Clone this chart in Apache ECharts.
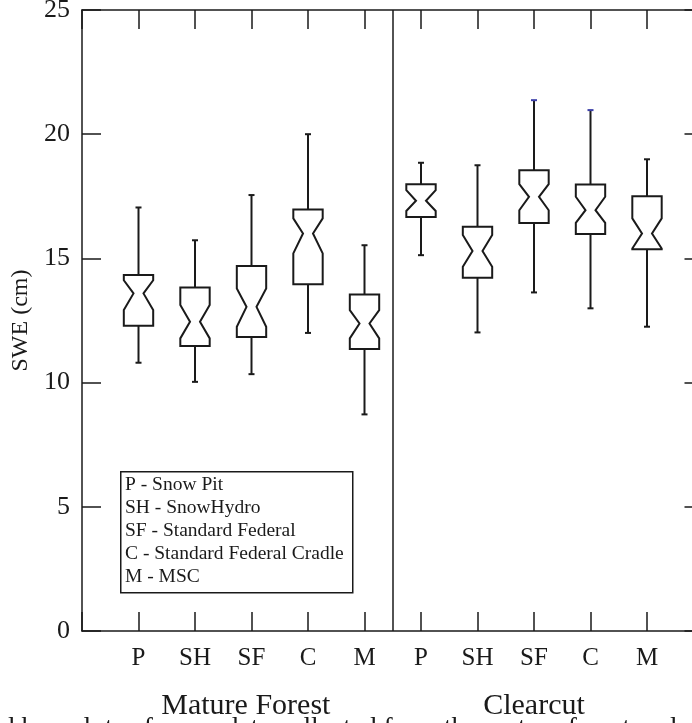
<!DOCTYPE html>
<html>
<head>
<meta charset="utf-8">
<script src="https://cdn.jsdelivr.net/npm/echarts@6/dist/echarts.min.js"></script>
<style>
html,body{margin:0;padding:0;background:#fff;}
#chart{width:692px;height:723px;}
</style>
</head>
<body>
<div id="chart"></div>
<script>
// Categories (methods)
const categories = ['P', 'SH', 'SF', 'C', 'M'];
const groups = ['Mature Forest', 'Clearcut'];
const legendLines = ['P - Snow Pit', 'SH - SnowHydro', 'SF - Standard Federal', 'C - Standard Federal Cradle', 'M - MSC'];
const yTicks = [0, 5, 10, 15, 20, 25];
// Each row: [whiskerLow, Q1, notchLow, median, notchHigh, Q3, whiskerHigh]
const matureForest = [
  [10.80, 12.29, 12.92, 13.59, 14.12, 14.33, 17.05],
  [10.03, 11.47, 11.78, 12.45, 13.12, 13.83, 15.73],
  [10.34, 11.84, 12.25, 13.05, 13.79, 14.69, 17.55],
  [12.00, 13.96, 15.20, 16.00, 16.61, 16.97, 20.00],
  [8.72, 11.35, 11.78, 12.38, 12.92, 13.55, 15.53]
];
const clearcut = [
  [15.13, 16.67, 16.91, 17.32, 17.75, 17.99, 18.85],
  [12.02, 14.22, 14.66, 15.30, 15.94, 16.27, 18.75],
  [13.63, 16.43, 16.94, 17.48, 17.99, 18.55, 21.37],
  [12.99, 15.98, 16.43, 16.94, 17.48, 17.98, 20.97],
  [12.25, 15.37, 15.40, 16.00, 16.61, 17.50, 18.99]
];
// boxes whose upper cap is drawn in blue (style marker)
const blueCaps = ['Clearcut|SF', 'Clearcut|C'];

const FONT = "'Liberation Serif', 'Times New Roman', serif";
const INK = '#1a1a1a';

const boxData = [];
matureForest.forEach((r, i) => boxData.push([i + 1].concat(r).concat([groups[0] + '|' + categories[i]])));
clearcut.forEach((r, i) => boxData.push([i + 6].concat(r).concat([groups[1] + '|' + categories[i]])));

function renderBox(params, api) {
  const x = api.value(0);
  const p = v => api.coord([x, v]);
  const cx = p(0)[0];
  const unit = api.size([1, 0])[0];
  const hw = unit * 0.26;
  const nw = hw * 0.34;
  const yWL = p(api.value(1))[1], yQ1 = p(api.value(2))[1], yNL = p(api.value(3))[1];
  const yMed = p(api.value(4))[1], yNH = p(api.value(5))[1], yQ3 = p(api.value(6))[1], yWH = p(api.value(7))[1];
  const key = boxData[params.dataIndex][8];
  const capColor = blueCaps.indexOf(key) >= 0 ? '#3b3fa8' : INK;
  const cap = 3;
  const lw = 2;
  return {
    type: 'group',
    children: [
      { type: 'line', shape: { x1: cx, y1: yQ3, x2: cx, y2: yWH }, style: { stroke: INK, lineWidth: lw } },
      { type: 'line', shape: { x1: cx, y1: yQ1, x2: cx, y2: yWL }, style: { stroke: INK, lineWidth: lw } },
      { type: 'line', shape: { x1: cx - cap, y1: yWH, x2: cx + cap, y2: yWH }, style: { stroke: capColor, lineWidth: lw } },
      { type: 'line', shape: { x1: cx - cap, y1: yWL, x2: cx + cap, y2: yWL }, style: { stroke: INK, lineWidth: lw } },
      { type: 'polygon', shape: { points: [
          [cx - hw, yQ3], [cx + hw, yQ3], [cx + hw, yNH], [cx + nw, yMed], [cx + hw, yNL],
          [cx + hw, yQ1], [cx - hw, yQ1], [cx - hw, yNL], [cx - nw, yMed], [cx - hw, yNH]
        ] }, style: { fill: '#fff', stroke: INK, lineWidth: lw, lineJoin: 'miter' } }
    ]
  };
}

const catLabel = v => {
  if (v >= 1 && v <= 5) return categories[v - 1];
  if (v >= 6 && v <= 10) return categories[v - 6];
  return '';
};

const axisLineStyle = { color: INK, width: 1.5 };
const tickStyle = { show: true, inside: true, length: 19, lineStyle: { color: INK, width: 1.5 } };

const chart = echarts.init(document.getElementById('chart'));
const gridLeft = 82, gridTop = 10, gridH = 621, unitPx = 56.5;
chart.setOption({
  animation: false,
  backgroundColor: '#fff',
  grid: { left: gridLeft, top: gridTop, width: unitPx * 11, height: gridH, containLabel: false, outerBoundsMode: 'none' },
  xAxis: [
    { type: 'value', position: 'bottom', min: 0, max: 11, interval: 1,
      axisLine: { show: true, onZero: false, lineStyle: axisLineStyle }, axisTick: tickStyle, splitLine: { show: false },
      axisLabel: { show: true, margin: 15, formatter: catLabel, fontFamily: FONT, fontSize: 25, color: INK,
        showMinLabel: true, showMaxLabel: true } },
    { type: 'value', position: 'top', min: 0, max: 11, interval: 1,
      axisLine: { show: true, onZero: false, lineStyle: axisLineStyle }, axisTick: tickStyle, splitLine: { show: false },
      axisLabel: { show: false } }
  ],
  yAxis: [
    { type: 'value', position: 'left', min: yTicks[0], max: yTicks[yTicks.length - 1], interval: 5,
      axisLine: { show: true, onZero: false, lineStyle: axisLineStyle }, axisTick: tickStyle, splitLine: { show: false },
      axisLabel: { show: true, margin: 12, fontFamily: FONT, fontSize: 26, color: INK },
      name: 'SWE (cm)', nameLocation: 'middle', nameGap: 49, nameRotate: 90, nameMoveOverlap: false,
      nameTextStyle: { fontFamily: FONT, fontSize: 24, color: INK } },
    { type: 'value', position: 'right', min: yTicks[0], max: yTicks[yTicks.length - 1], interval: 5,
      axisLine: { show: true, onZero: false, lineStyle: axisLineStyle }, axisTick: tickStyle, splitLine: { show: false },
      axisLabel: { show: false } }
  ],
  series: [{
    type: 'custom',
    xAxisIndex: 0, yAxisIndex: 0,
    renderItem: renderBox,
    data: boxData,
    encode: { x: 0, y: [1, 7] },
    clip: false,
    markLine: {
      silent: true, symbol: ['none', 'none'], label: { show: false },
      lineStyle: { color: INK, width: 1.5, type: 'solid' },
      data: [{ xAxis: 5.5 }]
    }
  }],
  graphic: [
    { type: 'rect', left: 120, top: 471, shape: { width: 232, height: 121 },
      style: { fill: '#fff', stroke: INK, lineWidth: 1.5 } },
    { type: 'text', left: 125, top: 473,
      style: { text: legendLines.join('\n'), fontFamily: FONT, fontSize: 19.5, lineHeight: 23, fill: INK } },
    { type: 'text', x: gridLeft + unitPx * 2.9, y: 706,
      style: { text: groups[0], fontFamily: FONT, fontSize: 30, fill: INK, align: 'center', verticalAlign: 'middle' } },
    { type: 'text', x: gridLeft + unitPx * 8.0, y: 706,
      style: { text: groups[1], fontFamily: FONT, fontSize: 30, fill: INK, align: 'center', verticalAlign: 'middle' } },
    { type: 'text', x: 1, y: 729,
      style: { text: 'd box plots of snow data collected from the mature forest and clearcut', fontFamily: FONT, fontSize: 27.5, fill: INK, align: 'left', verticalAlign: 'middle' } }
  ]
});
</script>
</body>
</html>
